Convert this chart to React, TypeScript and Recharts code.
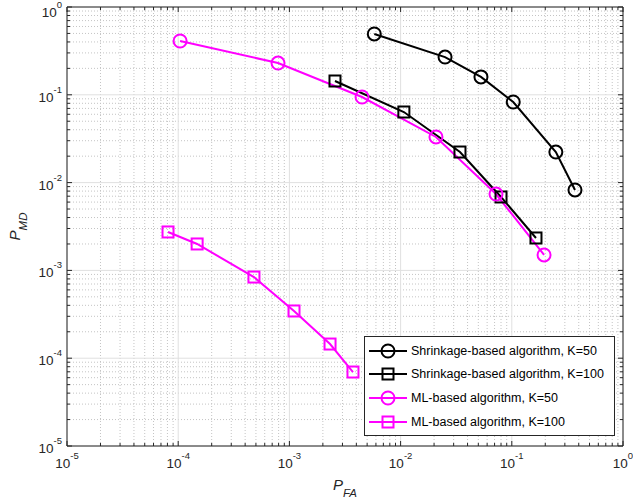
import { LineChart, Line, XAxis, YAxis, CartesianGrid, Label } from "recharts";

// P_FA / P_MD pairs
const shrink50FA = [5.8e-3, 0.0251, 0.0528, 0.103, 0.249, 0.37];
const shrink50MD = [0.493, 0.269, 0.16, 0.0828, 0.0223, 0.00824];
const shrink100FA = [2.57e-3, 0.0107, 0.0342, 0.08, 0.165];
const shrink100MD = [0.1436, 0.0637, 0.0223, 0.00686, 0.00234];
const ml50FA = [1.04e-4, 7.9e-4, 4.5e-3, 0.0208, 0.0721, 0.195];
const ml50MD = [0.41, 0.23, 0.0944, 0.0331, 0.00741, 0.0015];
const ml100FA = [8.1e-5, 1.48e-4, 4.8e-4, 1.1e-3, 2.32e-3, 3.73e-3];
const ml100MD = [2.74e-3, 2.0e-3, 8.4e-4, 3.45e-4, 1.45e-4, 6.96e-5];

const seriesNames = [
  "Shrinkage-based algorithm, K=50",
  "Shrinkage-based algorithm, K=100",
  "ML-based algorithm, K=50",
  "ML-based algorithm, K=100",
];

const exponents = [-5, -4, -3, -2, -1, 0];
const decades = exponents.map((e) => Math.pow(10, e));
const minors: number[] = [];
exponents.slice(0, -1).forEach((e) => {
  for (let m = 2; m <= 9; m++) minors.push(m * Math.pow(10, e));
});
const allTicks = [...decades, ...minors].sort((a, b) => a - b);

const zip = (xs: number[], ys: number[]) => xs.map((x, i) => ({ x, y: ys[i] }));

const AXIS = "#262626";
const FONT = "'Liberation Sans', Arial, Helvetica, sans-serif";
const W = 633;
const H = 499;
// axes are 1px thick, so the plot box ends up at 67..623 x 7..446
const M = { top: 6, right: 9, bottom: 52, left: 66 };

const isDecade = (v: number) => {
  const l = Math.log10(v);
  return Math.abs(l - Math.round(l)) < 1e-6;
};
const expOf = (v: number) => Math.round(Math.log10(v));

const PowLabel = ({ x, y, anchor, value }: any) => (
  <text x={x} y={y} textAnchor={anchor} fill={AXIS} fontSize={13.5} fontFamily={FONT}>
    10
    <tspan dy={-9} fontSize={9.5}>
      {expOf(value)}
    </tspan>
  </text>
);

const BottomTick = (props: any) => {
  const { x, y, payload } = props;
  const major = isDecade(payload.value);
  return (
    <g>
      <line x1={x} x2={x} y1={y} y2={y - (major ? 5 : 3)} stroke={AXIS} />
      {major && <PowLabel x={x} y={y + 22} anchor="middle" value={payload.value} />}
    </g>
  );
};

const TopTick = (props: any) => {
  const { x, y, payload } = props;
  const major = isDecade(payload.value);
  return <line x1={x} x2={x} y1={y} y2={y + (major ? 5 : 3)} stroke={AXIS} />;
};

const LeftTick = (props: any) => {
  const { x, y, payload } = props;
  const major = isDecade(payload.value);
  return (
    <g>
      <line x1={x} x2={x + (major ? 5 : 3)} y1={y} y2={y} stroke={AXIS} />
      {major && <PowLabel x={x - 5} y={Math.max(y + 7, 17)} anchor="end" value={payload.value} />}
    </g>
  );
};

const RightTick = (props: any) => {
  const { x, y, payload } = props;
  const major = isDecade(payload.value);
  return <line x1={x} x2={x - (major ? 5 : 3)} y1={y} y2={y} stroke={AXIS} />;
};

const circleDot = (color: string) => (p: any) =>
  <circle key={p.index} cx={p.cx} cy={p.cy} r={6.5} fill="none" stroke={color} strokeWidth={2} />;
const squareDot = (color: string) => (p: any) =>
  <rect key={p.index} x={p.cx - 5.5} y={p.cy - 5.5} width={11} height={11} fill="none" stroke={color} strokeWidth={2} />;

const series = [
  { name: seriesNames[0], data: zip(shrink50FA, shrink50MD), color: "#000000", marker: "circle" },
  { name: seriesNames[1], data: zip(shrink100FA, shrink100MD), color: "#000000", marker: "square" },
  { name: seriesNames[2], data: zip(ml50FA, ml50MD), color: "#ff00ff", marker: "circle" },
  { name: seriesNames[3], data: zip(ml100FA, ml100MD), color: "#ff00ff", marker: "square" },
];

function LegendBox() {
  return (
    <div
      style={{
        position: "absolute",
        left: 364,
        top: 336,
        width: 251,
        height: 100,
        boxSizing: "border-box",
        border: `1px solid ${AXIS}`,
        background: "#fff",
        fontFamily: FONT,
        fontSize: 12.5,
        paddingTop: 2,
      }}
    >
      {series.map((s) => (
        <div key={s.name} style={{ display: "flex", alignItems: "center", height: 23.6 }}>
          <svg width={46} height={20} style={{ flex: "none" }}>
            <line x1={4} x2={42} y1={10} y2={10} stroke={s.color} strokeWidth={2} />
            {s.marker === "circle" ? (
              <circle cx={23} cy={10} r={6.5} fill="none" stroke={s.color} strokeWidth={2} />
            ) : (
              <rect x={17.5} y={4.5} width={11} height={11} fill="none" stroke={s.color} strokeWidth={2} />
            )}
          </svg>
          <span style={{ color: "#000" }}>{s.name}</span>
        </div>
      ))}
    </div>
  );
}

const axisCommon = {
  type: "number" as const,
  scale: "log" as const,
  domain: [1e-5, 1],
  allowDataOverflow: true,
  ticks: allTicks,
  interval: 0,
  tickSize: 0,
  tickMargin: 0,
  tickLine: false,
  axisLine: { stroke: AXIS },
};

export default function App() {
  return (
    <div style={{ position: "absolute", left: 0, top: 0, width: W, height: H, background: "#fff" }}>
      <LineChart width={W} height={H} margin={M}>
        <CartesianGrid
          horizontalValues={minors}
          verticalValues={minors}
          stroke="#c4c4c4"
          strokeDasharray="1 2"
        />
        <CartesianGrid horizontalValues={decades} verticalValues={decades} stroke="#e0e0e0" />
        <XAxis {...axisCommon} dataKey="x" height={1} tick={<BottomTick />}>
          <Label
            content={(p: any) => {
              const vb = p.viewBox;
              return (
                <text x={vb.x + vb.width / 2} y={vb.y + 44} textAnchor="middle" fontFamily={FONT} fill={AXIS} fontStyle="italic" fontSize={15}>
                  P
                  <tspan dy={7} fontSize={11.5}>
                    FA
                  </tspan>
                </text>
              );
            }}
          />
        </XAxis>
        <XAxis {...axisCommon} xAxisId="top" orientation="top" dataKey="x" height={1} tick={<TopTick />} />
        <YAxis {...axisCommon} dataKey="y" width={1} tick={<LeftTick />}>
          <Label
            content={(p: any) => {
              const vb = p.viewBox;
              const cx = vb.x - 46;
              const cy = vb.y + vb.height / 2;
              return (
                <text x={cx} y={cy} transform={`rotate(-90, ${cx}, ${cy})`} textAnchor="middle" fontFamily={FONT} fill={AXIS} fontStyle="italic" fontSize={15}>
                  P
                  <tspan dy={7} fontSize={11.5}>
                    MD
                  </tspan>
                </text>
              );
            }}
          />
        </YAxis>
        <YAxis {...axisCommon} yAxisId="right" orientation="right" dataKey="y" width={1} tick={<RightTick />} />
        {series.map((s) => (
          <Line
            key={s.name}
            name={s.name}
            data={s.data}
            dataKey="y"
            stroke={s.color}
            strokeWidth={2}
            dot={s.marker === "circle" ? circleDot(s.color) : squareDot(s.color)}
            activeDot={false}
            isAnimationActive={false}
          />
        ))}
      </LineChart>
      <LegendBox />
    </div>
  );
}
